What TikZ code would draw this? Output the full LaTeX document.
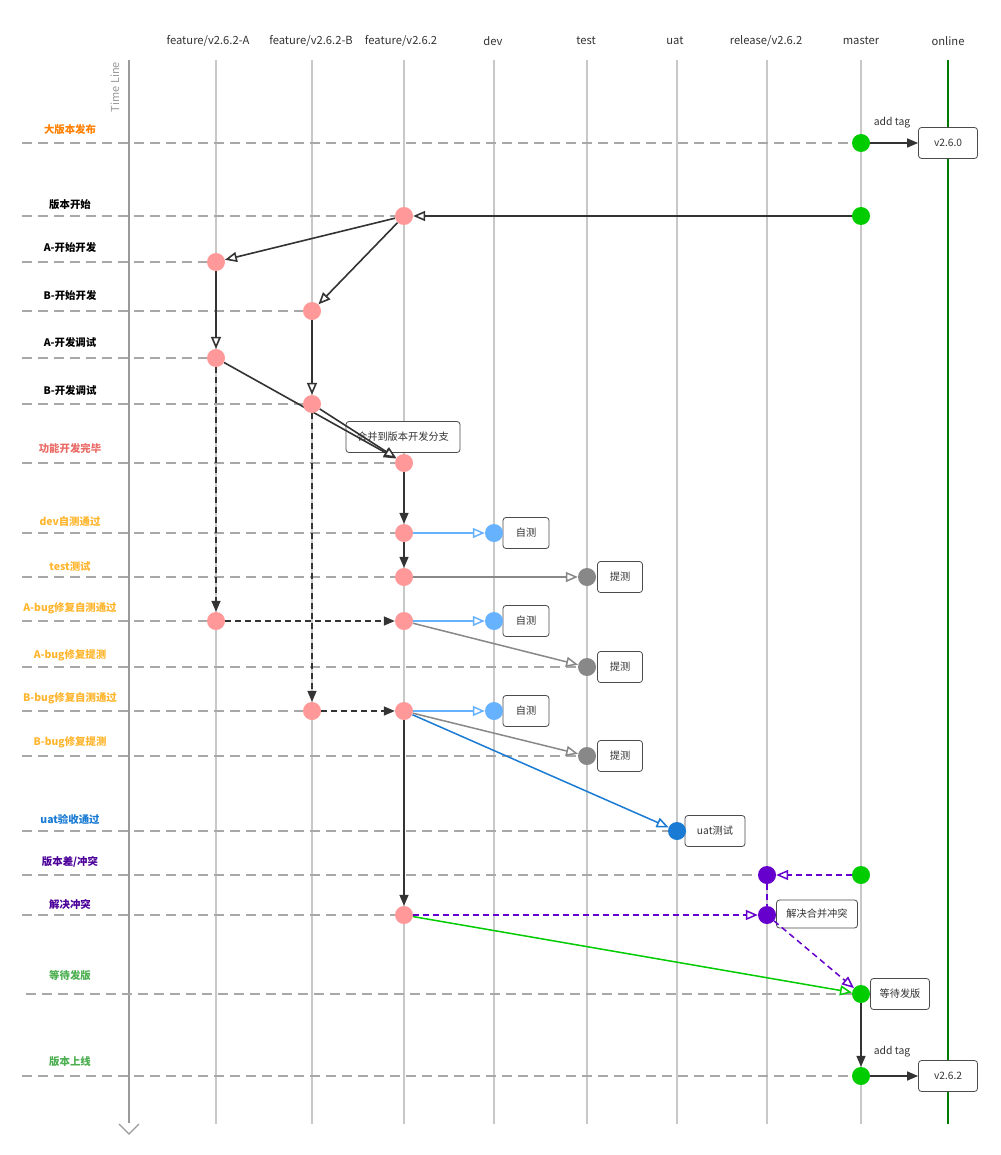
\documentclass[tikz,border=0pt]{standalone}
\usepackage{fontspec}
\setmainfont{Noto Sans CJK SC}
\usetikzlibrary{arrows.meta}
\definecolor{lanegray}{HTML}{C8C8C8}
\definecolor{dashgray}{HTML}{A8A8A8}
\definecolor{tlgray}{HTML}{9A9A9A}
\definecolor{dk}{HTML}{333333}
\definecolor{pinkc}{HTML}{FF9999}
\definecolor{greenc}{HTML}{00CC00}
\definecolor{ltblue}{HTML}{66B2FF}
\definecolor{grayc}{HTML}{888888}
\definecolor{bluec}{HTML}{1A7BD4}
\definecolor{purplec}{HTML}{6600CC}
\definecolor{onlinec}{HTML}{007A00}
\definecolor{orangec}{HTML}{FF8000}
\definecolor{redc}{HTML}{EA6B66}
\definecolor{amberc}{HTML}{FFB62E}
\definecolor{purtext}{HTML}{4C0099}
\definecolor{greentext}{HTML}{4CAF50}
\pgfdeclarelayer{bg}
\pgfdeclarelayer{mid}
\pgfdeclarelayer{edges}
\pgfsetlayers{bg,mid,edges,main}
\begin{document}
\begin{tikzpicture}[x=1pt,y=-1pt,
  lane/.style={draw=lanegray, line width=1.2pt},
  hline/.style={draw=dashgray, line width=1.3pt, dash pattern=on 10pt off 6pt},
  dot/.style={circle, minimum size=18pt, inner sep=0pt, draw=none},
  pinkdot/.style={dot, fill=pinkc},
  greendot/.style={dot, fill=greenc},
  bluedot/.style={dot, fill=ltblue},
  graydot/.style={dot, fill=grayc},
  uatdot/.style={dot, fill=bluec},
  purdot/.style={dot, fill=purplec},
  hdr/.style={font=\fontsize{11.2}{13}\selectfont, text=dk},
  rowlbl/.style={font=\bfseries\fontsize{10.4}{12}\selectfont},
  box/.style={draw=black!70, line width=0.8pt, rounded corners=3pt, fill=white,
    minimum height=31pt, inner sep=2pt, text=dk, font=\fontsize{10.2}{12}\selectfont},
  fillhead/.style={-{Triangle[length=11pt,width=9pt]}},
  openhead/.style={-{Triangle[length=12pt,width=10pt,fill=white]}},
  solidk/.style={draw=dk, line width=1.6pt},
  dashk/.style={draw=dk, line width=1.6pt, dash pattern=on 6pt off 4pt},
  purd/.style={draw=purplec, line width=1.5pt, dash pattern=on 6pt off 4pt},
]
\useasboundingbox (0,0) rectangle (1000,1155);

% headers
\node[hdr] (hA) at (208,41) {feature/v2.6.2-A};
\node[hdr] (hB) at (311,41) {feature/v2.6.2-B};
\node[hdr] (hF) at (401,41) {feature/v2.6.2};
\node[hdr] (hD) at (493,41) {dev};
\node[hdr] (hT) at (586,41) {test};
\node[hdr] (hU) at (675,41) {uat};
\node[hdr] (hR) at (766,41) {release/v2.6.2};
\node[hdr] (hM) at (861,41) {master};
\node[hdr] (hO) at (948,41) {online};
\node[rotate=90, text=tlgray, font=\fontsize{11}{13}\selectfont] (tl) at (115,87) {Time\ Line};

% row labels
\node[rowlbl, text=orangec] (r1) at (70,130) {大版本发布};
\node[rowlbl, text=black] (r2) at (70,205) {版本开始};
\node[rowlbl, text=black] (r3) at (70,248) {A-开始开发};
\node[rowlbl, text=black] (r4) at (70,296) {B-开始开发};
\node[rowlbl, text=black] (r5) at (70,343) {A-开发调试};
\node[rowlbl, text=black] (r6) at (70,391) {B-开发调试};
\node[rowlbl, text=redc] (r7) at (70,449) {功能开发完毕};
\node[rowlbl, text=amberc] (r8) at (70,522) {dev自测通过};
\node[rowlbl, text=amberc] (r9) at (70,567) {test测试};
\node[rowlbl, text=amberc] (r10) at (70,608) {A-bug修复自测通过};
\node[rowlbl, text=amberc] (r11) at (70,655) {A-bug修复提测};
\node[rowlbl, text=amberc] (r12) at (70,698) {B-bug修复自测通过};
\node[rowlbl, text=amberc] (r13) at (70,742) {B-bug修复提测};
\node[rowlbl, text=bluec] (r14) at (70,819) {uat验收通过};
\node[rowlbl, text=purtext] (r15) at (70,862) {版本差/冲突};
\node[rowlbl, text=purtext] (r16) at (70,905) {解决冲突};
\node[rowlbl, text=greentext] (r17) at (70,976) {等待发版};
\node[rowlbl, text=greentext] (r18) at (70,1062) {版本上线};

% dots
\node[greendot] (m1) at (861,143) {};
\node[greendot] (m2) at (861,216) {};
\node[pinkdot] (f0) at (404,216) {};
\node[pinkdot] (a1) at (216,262) {};
\node[pinkdot] (b1) at (312,311) {};
\node[pinkdot] (a2) at (216,358) {};
\node[pinkdot] (b2) at (312,404) {};
\node[pinkdot] (f1) at (404,463) {};
\node[pinkdot] (f2) at (404,533) {};
\node[bluedot] (d1) at (494,533) {};
\node[pinkdot] (f3) at (404,577) {};
\node[graydot] (t1) at (587,577) {};
\node[pinkdot] (a3) at (216,621) {};
\node[pinkdot] (f4) at (404,621) {};
\node[bluedot] (d2) at (494,621) {};
\node[graydot] (t2) at (587,667) {};
\node[pinkdot] (b3) at (312,711) {};
\node[pinkdot] (f5) at (404,711) {};
\node[bluedot] (d3) at (494,711) {};
\node[graydot] (t3) at (587,756) {};
\node[uatdot] (u1) at (677,831) {};
\node[purdot] (rl1) at (767,875) {};
\node[greendot] (m3) at (861,875) {};
\node[pinkdot] (f6) at (404,915) {};
\node[purdot] (rl2) at (767,915) {};
\node[greendot] (m4) at (861,994) {};
\node[greendot] (m5) at (861,1076) {};

% boxes
\begin{pgfonlayer}{mid}
\node[box, minimum width=59pt] (v260) at (948,143) {v2.6.0};
\node[box, minimum width=114pt] (merge) at (403,437) {合并到版本开发分支};
\node[box, minimum width=46pt] (s1) at (526,533) {自测};
\node[box, minimum width=46pt] (s2) at (526,621) {自测};
\node[box, minimum width=46pt] (s3) at (526,711) {自测};
\node[box, minimum width=45pt] (p1) at (620,577) {提测};
\node[box, minimum width=45pt] (p2) at (620,667) {提测};
\node[box, minimum width=45pt] (p3) at (620,756) {提测};
\node[box, minimum width=60pt] (ub) at (715,831) {uat测试};
\node[box, minimum width=81pt, minimum height=28pt] (rb) at (817,914) {解决合并冲突};
\node[box, minimum width=59pt] (wb) at (900,994) {等待发版};
\node[box, minimum width=59pt] (v262) at (948,1076) {v2.6.2};
\end{pgfonlayer}

\node[text=dk, font=\fontsize{10.4}{12}\selectfont] (tag1) at (892,123) {add tag};
\node[text=dk, font=\fontsize{10.4}{12}\selectfont] (tag2) at (892,1052) {add tag};

% background lanes and guide lines
\begin{pgfonlayer}{bg}
\fill[white] (0,0) rectangle (1000,1155);
\foreach \x in {216,312,404,494,587,677,767,861}{
  \draw[lane] (\x,60) -- (\x,1124);
}
\draw[draw=onlinec, line width=2.6pt] (948,60) -- (948,1124);
\draw[draw=tlgray, line width=2.6pt] (129,60) -- (129,1123);
\draw[draw=tlgray, line width=1.2pt] (119,1124) -- (129,1134) -- (139,1124);
\draw[hline] (22,143) -- (m1.center);
\draw[hline] (22,216) -- (f0.center);
\draw[hline] (22,262) -- (a1.center);
\draw[hline] (22,311) -- (b1.center);
\draw[hline] (22,358) -- (a2.center);
\draw[hline] (22,404) -- (b2.center);
\draw[hline] (22,463) -- (f1.center);
\draw[hline] (22,533) -- (f2.center);
\draw[hline] (22,577) -- (f3.center);
\draw[hline] (22,621) -- (a3.center);
\draw[hline] (22,667) -- (t2.center);
\draw[hline] (22,711) -- (b3.center);
\draw[hline] (22,756) -- (t3.center);
\draw[hline] (22,831) -- (u1.center);
\draw[hline] (22,875) -- (rl1.center);
\draw[hline] (22,915) -- (f6.center);
\draw[hline] (26,994) -- (m4.center);
\draw[hline] (22,1076) -- (m5.center);
\end{pgfonlayer}

% edges
\begin{pgfonlayer}{edges}
\draw[solidk, fillhead] (m1) -- (v260);
\draw[solidk, openhead] (m2) -- (f0);
\draw[solidk, openhead] (f0) -- (a1);
\draw[solidk, openhead] (f0) -- (b1);
\draw[solidk, openhead] (a1) -- (a2);
\draw[solidk, openhead] (b1) -- (b2);
\draw[solidk, openhead] (a2) -- (f1);
\draw[solidk, openhead] (b2) -- (f1);
\draw[solidk, fillhead] (f1) -- (f2);
\draw[draw=ltblue, line width=1.5pt, openhead] (f2) -- (d1);
\draw[solidk, fillhead] (f2) -- (f3);
\draw[draw=grayc, line width=1.5pt, openhead] (f3) -- (t1);
\draw[dashk, fillhead] (a2) -- (a3);
\draw[dashk, fillhead] (a3) -- (f4);
\draw[draw=ltblue, line width=1.5pt, openhead] (f4) -- (d2);
\draw[draw=grayc, line width=1.5pt, openhead] (f4) -- (t2);
\draw[dashk, fillhead] (b2) -- (b3);
\draw[dashk, fillhead] (b3) -- (f5);
\draw[draw=ltblue, line width=1.5pt, openhead] (f5) -- (d3);
\draw[draw=grayc, line width=1.5pt, openhead] (f5) -- (t3);
\draw[draw=bluec, line width=1.5pt, openhead] (f5) -- (u1);
\draw[solidk, fillhead] (f5) -- (f6);
\draw[purd, openhead] (m3) -- (rl1);
\draw[purd] (rl1) -- (rl2);
\draw[purd, openhead] (f6) -- (rl2);
\draw[purd, openhead] (rl2) -- (m4);
\draw[draw=greenc, line width=1.5pt, openhead] (f6) -- (m4);
\draw[solidk, fillhead] (m4) -- (m5);
\draw[solidk, fillhead] (m5) -- (v262);
\end{pgfonlayer}
\end{tikzpicture}
\end{document}
